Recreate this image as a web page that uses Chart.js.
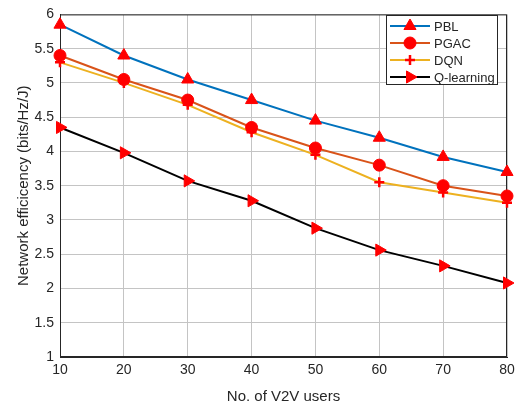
<!DOCTYPE html>
<html>
<head>
<meta charset="utf-8">
<script src="https://cdn.jsdelivr.net/npm/chart.js@4.4.1/dist/chart.umd.min.js"></script>
<style>
html,body{margin:0;padding:0;background:#fff;}
#wrap{width:520px;height:410px;}
</style>
</head>
<body>
<div id="wrap"><canvas id="c" width="520" height="410"></canvas></div>
<script>
const users = [10, 20, 30, 40, 50, 60, 70, 80];
const pbl = [5.85, 5.40, 5.05, 4.75, 4.45, 4.20, 3.92, 3.70];
const pgac = [5.40, 5.05, 4.75, 4.35, 4.05, 3.80, 3.50, 3.35];
const dqn = [5.30, 5.00, 4.68, 4.28, 3.95, 3.55, 3.40, 3.25];
const qlearn = [4.35, 3.98, 3.57, 3.28, 2.88, 2.56, 2.33, 2.08];
const seriesNames = ['PBL', 'PGAC', 'DQN', 'Q-learning'];
const xTicks = [10, 20, 30, 40, 50, 60, 70, 80];
const yTicks = [1, 1.5, 2, 2.5, 3, 3.5, 4, 4.5, 5, 5.5, 6];

const FONT = '"Liberation Sans", Arial, sans-serif';
const TXT = '#262626';
const pts = arr => arr.map((v, i) => ({x: users[i], y: v}));

function ds(label, data, color, style, radius, rot) {
  return {
    label, data: pts(data), borderColor: color, backgroundColor: 'red',
    pointBackgroundColor: 'red', pointBorderColor: 'red', pointBorderWidth: style === 'cross' ? 2.5 : 1,
    pointStyle: style, pointRadius: radius, pointRotation: rot || 0, pointHoverRadius: radius,
    borderWidth: 2, tension: 0, fill: false, clip: false
  };
}

const boxPlugin = {
  id: 'boxAndLegend',
  afterDraw(chart) {
    const {ctx} = chart;
    ctx.save();
    const lx = 386, ly = 15, lw = 111, lh = 69;
    ctx.fillStyle = '#fff';
    ctx.fillRect(lx, ly, lw, lh);
    ctx.strokeStyle = '#262626';
    ctx.lineWidth = 1;
    ctx.strokeRect(lx + 0.5, ly + 0.5, lw, lh);
    ctx.font = '13px ' + FONT;
    ctx.textBaseline = 'middle';
    chart.data.datasets.forEach((d, i) => {
      const y = ly + 11 + i * 17;
      ctx.strokeStyle = d.borderColor;
      ctx.lineWidth = 2;
      ctx.beginPath(); ctx.moveTo(lx + 4, y); ctx.lineTo(lx + 44, y); ctx.stroke();
      ctx.fillStyle = 'red'; ctx.strokeStyle = 'red';
      ctx.lineWidth = d.pointBorderWidth;
      Chart.helpers.drawPoint(ctx, {pointStyle: d.pointStyle, radius: d.pointRadius, rotation: d.pointRotation, borderWidth: d.pointBorderWidth}, lx + 24, y);
      ctx.fillStyle = TXT;
      ctx.fillText(d.label, lx + 48, y + 1);
    });
    ctx.restore();
  },
  beforeDatasetsDraw(chart) {
    const {ctx, chartArea: a} = chart;
    ctx.save();
    ctx.strokeStyle = TXT;
    ctx.lineWidth = 1;
    ctx.strokeRect(a.left + 0.5, a.top + 0.5, a.right - a.left - 1, a.bottom - a.top - 1);
    ctx.restore();
  }
};

new Chart(document.getElementById('c'), {
  type: 'line',
  data: {
    datasets: [
      ds(seriesNames[0], pbl, '#0072BD', 'triangle', 7),
      ds(seriesNames[1], pgac, '#D95319', 'circle', 6),
      ds(seriesNames[2], dqn, '#EDB120', 'cross', 5),
      ds(seriesNames[3], qlearn, '#000000', 'triangle', 7, 90)
    ]
  },
  options: {
    responsive: false,
    animation: false,
    layout: {padding: {left: 0, right: 13, top: 5, bottom: 0}},
    plugins: {legend: {display: false}, tooltip: {enabled: false}},
    scales: {
      x: {
        type: 'linear', min: 10, max: 80,
        afterBuildTicks: s => { s.ticks = xTicks.map(v => ({value: v})); },
        afterFit: s => { s.height = 53; },
        grid: {color: '#c4c4c4', drawTicks: false, lineWidth: 1},
        border: {color: TXT},
        ticks: {color: TXT, font: {family: FONT, size: 14}, padding: 5, maxRotation: 0, callback: v => String(v)},
        title: {display: true, text: 'No. of V2V users', color: TXT, font: {family: FONT, size: 15}, padding: {top: 0}}
      },
      y: {
        min: 1, max: 6,
        afterBuildTicks: s => { s.ticks = yTicks.map(v => ({value: v})); },
        afterFit: s => { s.width = 60; },
        grid: {color: '#c4c4c4', drawTicks: false, lineWidth: 1},
        border: {color: TXT},
        ticks: {color: TXT, font: {family: FONT, size: 14}, padding: 6, callback: v => String(v)},
        title: {display: true, text: 'Network efficicency (bits/Hz/J)', color: TXT, font: {family: FONT, size: 15}, padding: {bottom: 0, top: 15}}
      }
    }
  },
  plugins: [boxPlugin]
});
</script>
</body>
</html>
